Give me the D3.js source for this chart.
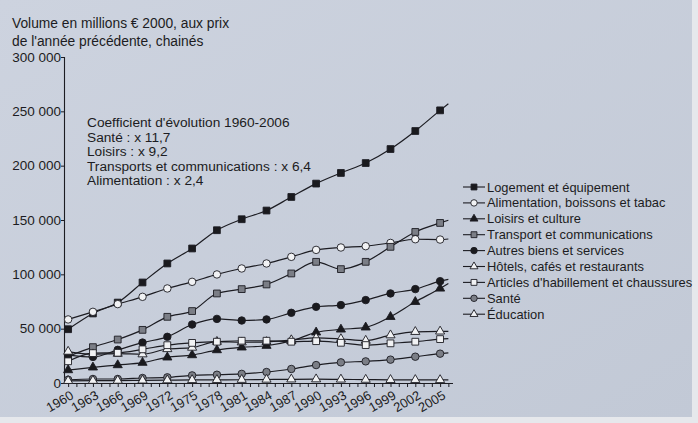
<!DOCTYPE html>
<html><head><meta charset="utf-8">
<script src="https://cdn.jsdelivr.net/npm/d3@7"></script>
<style>
html,body{margin:0;padding:0;background:#c8cfdb;}
svg{display:block;font-family:"Liberation Sans",Arial,Helvetica,sans-serif;}
</style></head>
<body>
<svg id="chart" width="698" height="423"></svg>
<script>
// ---- data ----
const years = [1960,1963,1966,1969,1972,1975,1978,1981,1984,1987,1990,1993,1996,1999,2002,2005,2006];
const logement   = [49500,64000,74000,92500,110000,123800,140600,150700,158700,171200,183500,193300,202400,215300,231900,250900,257000];
const alimentation = [58500,65500,72600,79300,87000,93100,99900,105400,110000,116100,122500,124700,125900,128900,132300,132000,132500];
const loisirs    = [11900,14400,16500,18700,23600,25700,30300,32800,34300,38700,46600,49300,51200,60900,74700,87000,91600];
const transport  = [24500,33000,40000,48900,60900,66200,82400,86400,90700,100800,111500,104800,111500,125300,139000,147300,149800];
const autres     = [25700,24000,30500,37200,42500,53800,59000,57500,58500,64600,70100,71700,76300,82400,86400,93700,95300];
const hotels     = [28900,26500,27000,26500,31300,32600,38000,37500,37800,39500,41500,40500,39000,44000,47100,47500,47500];
const articles   = [20000,27500,27800,31000,34800,36900,38000,38900,38900,38000,38500,37000,34900,36500,38000,40400,40800];
const sante      = [3000,3700,3700,4600,5200,7000,7600,8400,10100,12900,16500,19000,19900,21500,24200,27000,27800];
const education  = [2000,2100,2200,2400,2600,2800,2900,3000,3200,3400,3500,3300,3100,2900,2900,2800,2800];
const markerYears = [1960,1963,1966,1969,1972,1975,1978,1981,1984,1987,1990,1993,1996,1999,2002,2005];
const yTicks = [0,50000,100000,150000,200000,250000,300000];
const seriesNames = ["Logement et équipement","Alimentation, boissons et tabac","Loisirs et culture","Transport et communications","Autres biens et services","Hôtels, cafés et restaurants","Articles d'habillement et chaussures","Santé","Éducation"];
const titleLines = ["Volume en millions € 2000, aux prix","de l'année précédente, chainés"];
const noteLines = ["Coefficient d'évolution 1960-2006","Santé : x 11,7","Loisirs : x 9,2","Transports et communications : x 6,4","Alimentation : x 2,4"];

const seriesValues = [logement,alimentation,loisirs,transport,autres,hotels,articles,sante,education];
const seriesStyle = [
  {sym:"square", fill:"#1a1a1e"},
  {sym:"circle", fill:"#f1f2f4"},
  {sym:"triangle", fill:"#1a1a1e"},
  {sym:"square", fill:"#7b7e86"},
  {sym:"circle", fill:"#1a1a1e"},
  {sym:"triangle", fill:"#f1f2f4"},
  {sym:"square", fill:"#f1f2f4"},
  {sym:"circle", fill:"#7b7e86"},
  {sym:"triangle", fill:"#f1f2f4"}
];

const svg = d3.select("#chart");
const ink = "#1c1c22";

// background with a slight photographic gradient
const defs = svg.append("defs");
const grad = defs.append("linearGradient").attr("id","bg").attr("x1","0").attr("y1","0").attr("x2","1").attr("y2","1");
grad.append("stop").attr("offset","0").attr("stop-color","#cdd3df");
grad.append("stop").attr("offset","1").attr("stop-color","#c2c9d6");
svg.append("rect").attr("width",698).attr("height",423).attr("fill","#e6e8ec");
svg.append("rect").attr("width",692).attr("height",417).attr("fill","url(#bg)");

const x = d3.scaleLinear().domain([1959.5,2006.5]).range([64,452.5]);
const y = d3.scaleLinear().domain([0,300000]).range([383,57]);

// axes
const yAxis = d3.axisLeft(y).tickValues(yTicks).tickSize(3).tickPadding(0)
  .tickFormat(d => d3.format(",")(d).replace(/,/g," "));
const gy = svg.append("g").attr("transform","translate(64,0)").call(yAxis);
gy.select(".domain").attr("stroke",ink).attr("stroke-width",1.1);
gy.selectAll(".tick line").attr("stroke",ink);
gy.selectAll(".tick text").attr("fill",ink).attr("font-size",13.5).attr("font-family","Liberation Sans, Arial, sans-serif");

const allYears = d3.range(1960,2007);
const xAxis = d3.axisBottom(x).tickValues(allYears).tickSize(4).tickSizeOuter(0)
  .tickFormat(d => markerYears.includes(d) ? String(d) : "");
const gx = svg.append("g").attr("transform","translate(0,383)").call(xAxis);
gx.select(".domain").attr("stroke",ink).attr("stroke-width",1.1);
gx.selectAll(".tick line").attr("stroke",ink);
gx.selectAll(".tick text").attr("fill",ink).attr("font-size",13).attr("font-family","Liberation Sans, Arial, sans-serif")
  .attr("text-anchor","end").attr("dy",0).attr("y",0)
  .attr("transform","translate(6,15) rotate(-30)");

// lines
const line = d3.line().x((d,i)=>x(years[i])).y(d=>y(d)).curve(d3.curveMonotoneX);
seriesValues.forEach((vals,si)=>{
  svg.append("path").datum(vals).attr("d",line).attr("fill","none")
    .attr("stroke",ink).attr("stroke-width",1.2);
});

function symbolPath(sym, scale){
  const t = sym==="square"?d3.symbolSquare:sym==="circle"?d3.symbolCircle:d3.symbolTriangle;
  const size = sym==="square"?46:sym==="circle"?44:36;
  return d3.symbol().type(t).size(size*scale)();
}

// markers
seriesValues.forEach((vals,si)=>{
  const st = seriesStyle[si];
  const pts = years.map((yr,i)=>({yr,v:vals[i]})).filter(p=>markerYears.includes(p.yr));
  svg.append("g").selectAll("path").data(pts).join("path")
    .attr("d",symbolPath(st.sym,1))
    .attr("transform",p=>`translate(${x(p.yr)},${y(p.v)})`)
    .attr("fill",st.fill).attr("stroke",ink).attr("stroke-width",0.9);
});

// title
svg.append("g").selectAll("text").data(titleLines).join("text")
  .attr("x",12).attr("y",(d,i)=>28+i*17.5).text(d=>d)
  .attr("fill",ink).attr("font-size",13.8);

// annotation
svg.append("g").selectAll("text").data(noteLines).join("text")
  .attr("x",87).attr("y",(d,i)=>127+i*14.5).text(d=>d)
  .attr("fill",ink).attr("font-size",13.7);

// legend
const leg = svg.append("g");
seriesNames.forEach((name,i)=>{
  const cy = 187 + i*15.9;
  const st = seriesStyle[i];
  leg.append("line").attr("x1",463).attr("x2",485).attr("y1",cy).attr("y2",cy).attr("stroke",ink).attr("stroke-width",1.1);
  leg.append("path").attr("d",symbolPath(st.sym,0.75)).attr("transform",`translate(474,${cy})`)
    .attr("fill",st.fill).attr("stroke",ink).attr("stroke-width",0.9);
  leg.append("text").attr("x",487).attr("y",cy+4.5).text(name).attr("fill",ink).attr("font-size",12.9);
});
</script>
</body></html>
